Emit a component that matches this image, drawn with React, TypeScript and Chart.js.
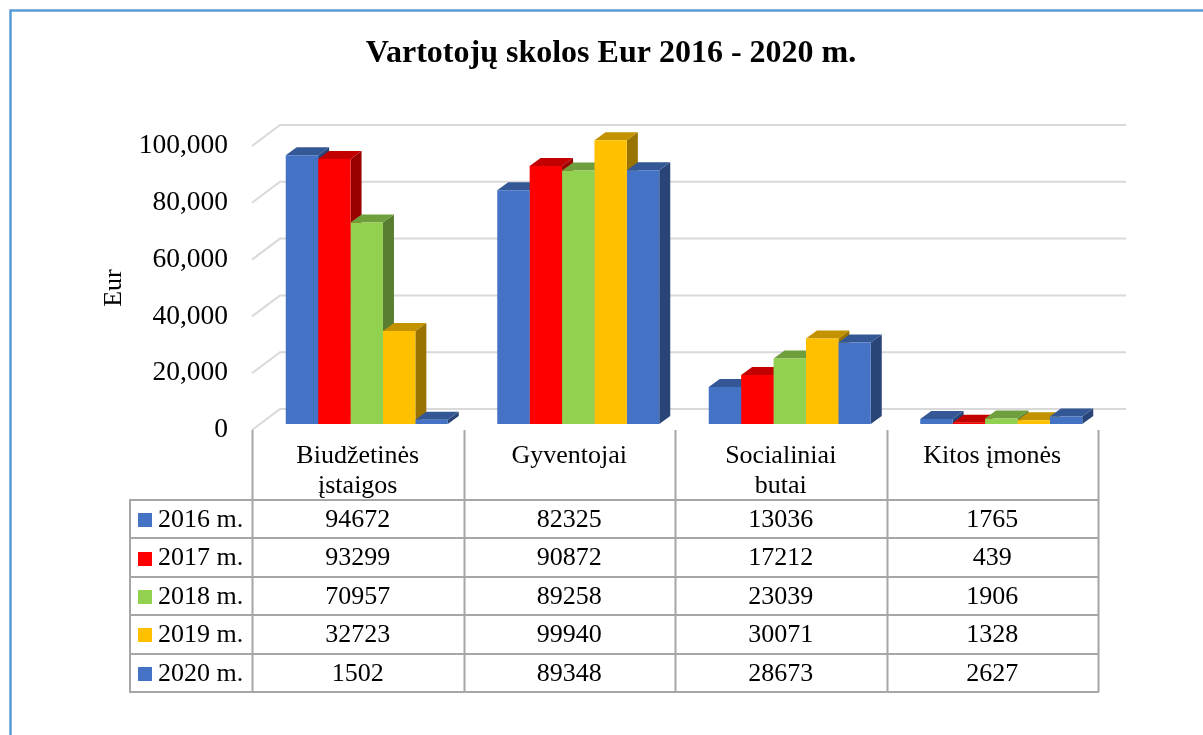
import React, { useEffect, useRef } from "react";
import { Chart, registerables } from "chart.js";

Chart.register(...registerables);

const categories: string[][] = [["Biudžetinės", "įstaigos"], ["Gyventojai"], ["Socialiniai", "butai"], ["Kitos įmonės"]];
const seriesLabels = ["2016 m.", "2017 m.", "2018 m.", "2019 m.", "2020 m."];
const v2016 = [94672, 82325, 13036, 1765];
const v2017 = [93299, 90872, 17212, 439];
const v2018 = [70957, 89258, 23039, 1906];
const v2019 = [32723, 99940, 30071, 1328];
const v2020 = [1502, 89348, 28673, 2627];
const seriesValues = [v2016, v2017, v2018, v2019, v2020];
const seriesColors = ["#4472C4", "#FF0000", "#92D050", "#FFC000", "#4472C4"];
const yTicks = [0, 20000, 40000, 60000, 80000, 100000];
const titleText = "Vartotojų skolos Eur 2016 - 2020 m.";
const yAxisTitle = "Eur";

const FONT = "'Liberation Serif', 'Times New Roman', serif";
const WALL_DX = 28, WALL_DY = -21;
const FRONT_DX = 9, FRONT_DY = -6;
const BAR_DX = 11, BAR_DY = -8;

function shade(hex: string, f: number) {
  const n = parseInt(hex.slice(1), 16);
  const r = Math.round(((n >> 16) & 255) * f);
  const g = Math.round(((n >> 8) & 255) * f);
  const b = Math.round((n & 255) * f);
  return `rgb(${r},${g},${b})`;
}

function poly(ctx: CanvasRenderingContext2D, pts: number[][], fill: string) {
  ctx.beginPath();
  ctx.moveTo(pts[0][0], pts[0][1]);
  for (let i = 1; i < pts.length; i++) ctx.lineTo(pts[i][0], pts[i][1]);
  ctx.closePath();
  ctx.fillStyle = fill;
  ctx.fill();
}

const threeD = {
  id: "threeD",
  beforeDraw(chart: any) {
    const { ctx } = chart;
    ctx.save();
    ctx.fillStyle = "#ffffff";
    ctx.fillRect(0, 0, chart.width, chart.height);
    ctx.strokeStyle = "#5B9BD5";
    ctx.lineWidth = 2.5;
    ctx.beginPath();
    ctx.moveTo(10.5, chart.height);
    ctx.lineTo(10.5, 10.5);
    ctx.lineTo(chart.width, 10.5);
    ctx.stroke();
    ctx.fillStyle = "#000";
    ctx.font = `bold 32px ${FONT}`;
    ctx.textAlign = "center";
    ctx.textBaseline = "alphabetic";
    ctx.fillText(titleText, 611, 62);
    ctx.restore();
  },
  beforeDatasetsDraw(chart: any) {
    const { ctx, chartArea } = chart;
    const y = chart.scales.y;
    ctx.save();
    ctx.strokeStyle = "#D9D9D9";
    ctx.lineWidth = 2;
    for (const t of yTicks) {
      const py = y.getPixelForValue(t);
      ctx.beginPath();
      ctx.moveTo(chartArea.left, py);
      ctx.lineTo(chartArea.left + WALL_DX, py + WALL_DY);
      ctx.lineTo(chartArea.right + WALL_DX, py + WALL_DY);
      ctx.stroke();
    }
    ctx.translate(FRONT_DX, FRONT_DY);
    const n = chart.data.datasets.length;
    for (let c = 0; c < categories.length; c++) {
      for (let d = 0; d < n; d++) {
        const meta = chart.getDatasetMeta(d);
        const el = meta.data[c];
        if (!el) continue;
        const p = el.getProps(["x", "y", "base", "width"], true);
        const l = p.x - p.width / 2, r = p.x + p.width / 2;
        const col = seriesColors[d];
        poly(ctx, [[r, p.y], [r + BAR_DX, p.y + BAR_DY], [r + BAR_DX, p.base + BAR_DY], [r, p.base]], shade(col, 0.6));
        poly(ctx, [[l, p.y], [l + BAR_DX, p.y + BAR_DY], [r + BAR_DX, p.y + BAR_DY], [r, p.y]], shade(col, 0.76));
      }
    }
    ctx.restore();
    ctx.save();
    ctx.translate(FRONT_DX, FRONT_DY);
  },
  afterDatasetsDraw(chart: any) {
    chart.ctx.restore();
  },
  afterDraw(chart: any) {
    const { ctx, chartArea } = chart;
    const x = chart.scales.x;
    const catW = (chartArea.right - chartArea.left) / categories.length;
    const headTop = chartArea.bottom;
    const headBottom = 500;
    const rowH = 38.4;
    const tableBottom = headBottom + rowH * seriesLabels.length;
    const legendLeft = 130;
    ctx.save();
    ctx.strokeStyle = "#A6A6A6";
    ctx.lineWidth = 2;
    ctx.beginPath();
    for (let i = 0; i <= categories.length; i++) {
      const bx = Math.round(chartArea.left + i * catW) + 0.5;
      ctx.moveTo(bx, headTop);
      ctx.lineTo(bx, tableBottom);
    }
    ctx.moveTo(legendLeft, headBottom);
    ctx.lineTo(legendLeft, tableBottom);
    for (let k = 0; k <= seriesLabels.length; k++) {
      const hy = Math.round(headBottom + k * rowH);
      ctx.moveTo(legendLeft - 1, hy);
      ctx.lineTo(chartArea.right + 1, hy);
    }
    ctx.stroke();

    ctx.fillStyle = "#000";
    ctx.font = `26px ${FONT}`;
    ctx.textAlign = "center";
    ctx.textBaseline = "alphabetic";
    for (let c = 0; c < categories.length; c++) {
      const cx = x.getPixelForValue(c);
      categories[c].forEach((line, li) => ctx.fillText(line, cx, 463 + li * 30));
    }
    ctx.textBaseline = "middle";
    for (let d = 0; d < seriesLabels.length; d++) {
      const cy = headBottom + rowH * d + rowH / 2 + 1;
      ctx.fillStyle = seriesColors[d];
      ctx.fillRect(138, Math.round(cy - 7), 14, 14);
      ctx.fillStyle = "#000";
      ctx.textAlign = "left";
      ctx.fillText(seriesLabels[d], 158, cy);
      ctx.textAlign = "center";
      for (let c = 0; c < categories.length; c++) {
        ctx.fillText(String(seriesValues[d][c]), x.getPixelForValue(c), cy);
      }
    }
    ctx.restore();
  },
};

export default function App() {
  const ref = useRef<HTMLCanvasElement>(null);
  useEffect(() => {
    if (!ref.current) return;
    const chart = new Chart(ref.current, {
      type: "bar",
      data: {
        labels: categories.map((c) => c.join(" ")),
        datasets: seriesLabels.map((label, i) => ({
          label,
          data: seriesValues[i],
          backgroundColor: seriesColors[i],
          borderWidth: 0,
          categoryPercentage: 0.766,
          barPercentage: 1,
          clip: false as any,
        })),
      },
      options: {
        animation: false,
        responsive: true,
        maintainAspectRatio: false,
        layout: { padding: { left: 101, right: 105, top: 146, bottom: 305 } },
        plugins: { legend: { display: false }, tooltip: { enabled: false }, title: { display: false } },
        scales: {
          x: { display: false },
          y: {
            min: 0,
            max: 100000,
            afterFit: (s: any) => { s.width = 151; },
            ticks: { stepSize: 20000, padding: 24, color: "#000", font: { family: FONT, size: 27.5 } },
            grid: { display: false, drawTicks: false },
            border: { display: false },
            title: { display: true, text: yAxisTitle, color: "#000", padding: 0, font: { family: FONT, size: 26, lineHeight: 1 } },
          },
        },
      },
      plugins: [threeD],
    });
    return () => chart.destroy();
  }, []);
  return (
    <div style={{ position: "absolute", left: 0, top: 0, width: 1203, height: 735 }}>
      <canvas ref={ref} />
    </div>
  );
}
